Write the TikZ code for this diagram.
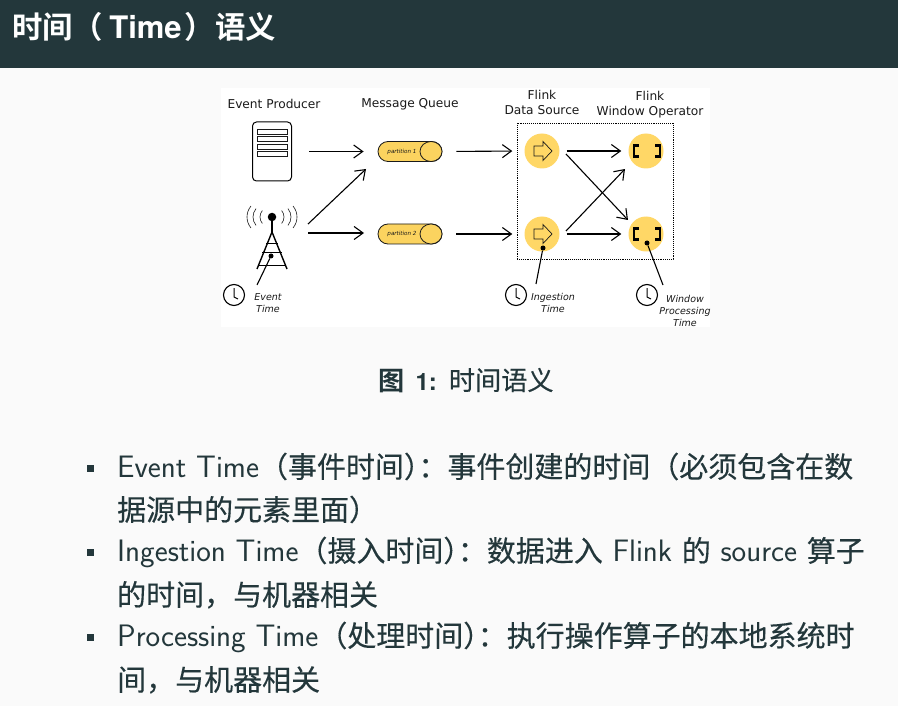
\documentclass[tikz,border=0pt]{standalone}
\usepackage{fontspec}
\usepackage{xcolor}
\usetikzlibrary{arrows.meta, positioning, calc, shapes.geometric}
\newfontfamily\cjk[Scale=0.935,FakeBold=0.3]{Noto Sans CJK SC}
\newfontfamily\cjkbold[Scale=0.935]{Noto Sans CJK SC Bold}
\newfontfamily\dejavu{DejaVu Sans}
\newfontfamily\heros{TeX Gyre Heros}
\definecolor{slidedark}{HTML}{23373B}
\definecolor{slidebg}{HTML}{FAFAFA}
\definecolor{flinkyellow}{HTML}{FFD766}
\definecolor{queueyellow}{HTML}{FBD35F}
\definecolor{linedark}{HTML}{1A1A1A}
\tikzset{
  arr/.style={line width=1.1pt, color=black, -{Straight Barb[length=9pt,width=13pt]}},
  heading/.style={font=\dejavu\fontsize{12.2}{15}\selectfont, color=linedark, align=center, inner sep=0pt},
  timelabel/.style={font=\dejavu\itshape\fontsize{9.5}{12}\selectfont, color=linedark, align=center, inner sep=0pt},
  bodytext/.style={anchor=base west, inner sep=0pt, text=slidedark, font=\sffamily\fontsize{31}{36}\selectfont},
  bulletbox/.style={fill=slidedark, minimum size=7pt, inner sep=0pt},
  opcircle/.style={circle, fill=flinkyellow, minimum size=35pt, inner sep=0pt},
  queuebox/.style={draw=linedark, fill=queueyellow, line width=0.8pt, rounded corners=10pt, minimum width=64pt, minimum height=20pt, inner sep=0pt},
  clockface/.style={circle, draw=black, line width=1.1pt, minimum size=21pt, inner sep=0pt},
  blackdot/.style={circle, fill=black, minimum size=5pt, inner sep=0pt},
}
\begin{document}
\begin{tikzpicture}[x=1pt, y=-1pt]
\useasboundingbox (0,0) rectangle (898,706);
\fill[slidebg] (0,0) rectangle (898,706);
% Title bar
\fill[slidedark] (0,0) rectangle (898,68);
\node[anchor=base west, inner sep=0pt, text=white, font=\fontsize{32.5}{36}\selectfont] (title) at (12,39) {{\cjkbold 时间（}\hspace{6pt}{\heros\bfseries\fontsize{31}{34}\selectfont Time}\hspace{3pt}{\cjkbold ）语义}};

% Figure background
\fill[white] (221,88) rectangle (710,327);
\node[heading] (headprod) at (274,103.5) {Event Producer};
\node[heading] (headqueue) at (410,104.5) {Message Queue};
\node[heading] (headsrc) at (542,102.5) {Flink\\Data Source};
\node[heading] (headop) at (650,104.5) {Flink\\Window Operator};

% Server
\node[draw=black, line width=1pt, rounded corners=4pt, minimum width=39pt, minimum height=59pt, inner sep=0pt] (server) at (272,151.5) {};
\foreach \y in {131.5,139,146.5,153.5}
    \draw[line width=0.7pt, draw=linedark, fill=white] (257,\y-2.5) rectangle (287,\y+2.5);

% Tower
\node[blackdot, minimum size=8.5pt] (ball) at (272,217) {};
\node[blackdot] (towerdot) at (271,256) {};
\coordinate (towertop) at (272,232);
\coordinate (legleft) at (257,269);
\coordinate (legright) at (287,269);
\draw[line width=1.4pt] (ball) -- (towertop);
\draw[line width=1.4pt] (legleft) -- (towertop) -- (legright);
\foreach \y/\w in {243/6, 252/10, 265/14}
    \draw[line width=0.6pt] (272-\w,\y) -- (272+\w,\y);
\foreach \r/\R in {12/10, 19/13, 25/17} {
    \draw[line width=0.6pt, color=linedark] (ball) ++(-\r,0) arc[start angle=180, delta angle=40, radius=\R pt];
    \draw[line width=0.6pt, color=linedark] (ball) ++(-\r,0) arc[start angle=180, delta angle=-40, radius=\R pt];
    \draw[line width=0.6pt, color=linedark] (ball) ++(\r,0) arc[start angle=0, delta angle=40, radius=\R pt];
    \draw[line width=0.6pt, color=linedark] (ball) ++(\r,0) arc[start angle=0, delta angle=-40, radius=\R pt];
}
\coordinate (eventend) at (257,285);
\draw[line width=1.1pt] (towerdot) -- (eventend);

% Queues
\foreach \n/\y in {1/151.5, 2/234} {
    \node[queuebox] (queue\n) at (410,\y) {};
    \node[draw=linedark, fill=queueyellow, line width=0.8pt, ellipse, minimum width=22pt, minimum height=20pt, inner sep=0pt] (cap\n) at (431,\y) {};
    \node[font=\dejavu\itshape\fontsize{5.6}{6}\selectfont, color=linedark, inner sep=0pt] (part\n) at (402,\y) {partition \n};
}

% Operators
\foreach \n/\y in {1/151, 2/234} {
    \node[opcircle] (src\n) at (542,\y) {};
    \node[opcircle] (op\n) at (646,\y) {};
    \draw[line width=0.7pt, draw=linedark, fill=flinkyellow] (src\n) ++(-8,-5) -- ++(9,0) -- ++(0,-4.5) -- ++(9,9.5) -- ++(-9,9.5) -- ++(0,-4.5) -- ++(-9,0) -- cycle;
    \draw[line width=2.2pt] (op\n) ++(-7,-5.5) -- ++(-5,0) -- ++(0,11) -- ++(5,0);
    \draw[line width=2.2pt] (op\n) ++(9,-5.5) -- ++(5,0) -- ++(0,11) -- ++(-5,0);
}
\node[draw=black, densely dotted, line width=0.9pt, minimum width=156pt, minimum height=136pt, inner sep=0pt] (flinkbox) at (595,191) {};

% Arrows
\draw[arr, shorten <=17pt, shorten >=14pt] (server.east |- queue1) -- (queue1.west);
\draw[arr, shorten <=14pt, shorten >=12pt] (queue1.east) -- (src1.west);
\draw[arr, shorten <=14pt, shorten >=12pt] (queue2.east) -- (src2.west);
\draw[arr, shorten <=7pt, shorten >=7pt] (src1.east) -- (op1.west);
\draw[arr, shorten <=7pt, shorten >=7pt] (src2.east) -- (op2.west);
\coordinate (towerup) at (308,224);
\coordinate (towerright) at (308,233);
\coordinate (queuein) at (366,169);
\coordinate (queueinlow) at (364,233);
\coordinate (srcdown) at (566,154);
\coordinate (opdown) at (628,220);
\coordinate (srcup) at (566,231);
\coordinate (opup) at (625,169);
\draw[arr] (towerup) -- (queuein);
\draw[arr] (towerright) -- (queueinlow);
\draw[arr] (srcdown) -- (opdown);
\draw[arr] (srcup) -- (opup);

% Time markers
\foreach \x in {234,516,647} {
    \node[clockface] (clock\x) at (\x,295) {};
    \draw[line width=1pt] (clock\x) ++(0,-7) -- ++(0,9) -- ++(4,2);
}
\node[blackdot] (srcdot) at (543,248) {};
\node[blackdot] (opdot) at (647,243) {};
\coordinate (ingestend) at (536,284);
\coordinate (windowend) at (663,285);
\draw[line width=1.1pt] (srcdot) -- (ingestend);
\draw[line width=1.1pt] (opdot) -- (windowend);
\node[timelabel] (eventlabel) at (268,303) {Event\\Time};
\node[timelabel] (ingestlabel) at (553,303) {Ingestion\\Time};
\node[timelabel] (windowlabel) at (685,311) {Window\\Processing\\Time};

% Caption
\node[inner sep=0pt, text=slidedark, anchor=base, font=\fontsize{28}{32}\selectfont] (caption) at (466,390) {{\cjkbold 图}\hspace{11pt}{\heros\bfseries\fontsize{24}{28}\selectfont 1:}\hspace{12pt}{\cjk 时间语义}};

% Bullets
\node[bodytext] (line1) at (117,477.5) {Event Time{\cjk（事件时间）\hspace{-14.5pt}：事件创建的时间（必须包含在数}};
\node[bodytext] (line2) at (117,520.5) {{\cjk 据源中的元素里面）}};
\node[bodytext] (line3) at (117,561.5) {Ingestion Time{\cjk（摄入时间）\hspace{-14.5pt}：数据进入} Flink {\cjk 的} source {\cjk 算子}};
\node[bodytext] (line4) at (117,605.5) {{\cjk 的时间，与机器相关}};
\node[bodytext] (line5) at (117,646.5) {Processing Time{\cjk（处理时间）\hspace{-14.5pt}：执行操作算子的本地系统时}};
\node[bodytext] (line6) at (117,690.5) {{\cjk 间，与机器相关}};
\foreach \y in {468,552,637}
    \node[bulletbox] (bullet\y) at (90.5,\y) {};
\end{tikzpicture}
\end{document}
